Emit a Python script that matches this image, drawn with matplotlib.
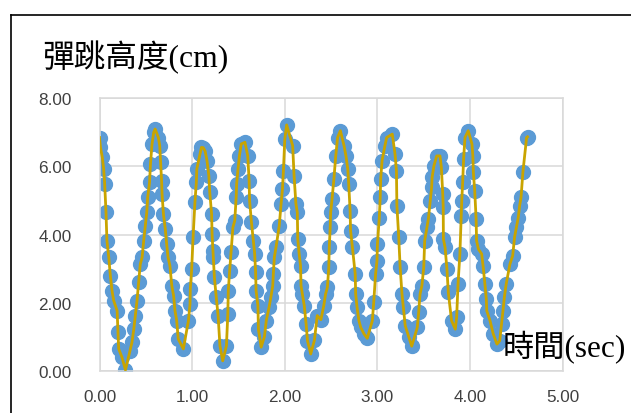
import matplotlib.pyplot as plt
from matplotlib.lines import Line2D

# bounce height vs time
t_sec = [0.00, 0.01, 0.03, 0.045, 0.056, 0.07, 0.08, 0.10, 0.117, 0.135, 0.153, 0.19, 0.20, 0.207, 0.243, 0.28,
         0.33, 0.35, 0.37, 0.387, 0.405, 0.423, 0.44, 0.46, 0.477, 0.495, 0.51, 0.52, 0.54, 0.55, 0.567, 0.585, 0.60,
         0.635, 0.65, 0.66, 0.67, 0.675, 0.69, 0.71, 0.725, 0.74, 0.76, 0.78, 0.80, 0.815, 0.833, 0.85, 0.905,
         0.96, 0.977, 0.98, 0.995, 1.01, 1.03, 1.045, 1.05, 1.085, 1.10, 1.12,
         1.14, 1.16, 1.18, 1.19, 1.21, 1.215, 1.225, 1.23, 1.24, 1.26, 1.28, 1.30, 1.33,
         1.37, 1.385, 1.39, 1.405, 1.42, 1.44, 1.46, 1.475, 1.48, 1.495, 1.51, 1.53, 1.57,
         1.60, 1.615, 1.62, 1.64, 1.66, 1.675, 1.685, 1.69, 1.71, 1.715, 1.745,
         1.78, 1.80, 1.83, 1.85, 1.87, 1.876, 1.887, 1.905, 1.94, 1.96, 1.975, 1.985, 2.0, 2.02,
         2.085, 2.10, 2.12, 2.135, 2.14, 2.155, 2.17, 2.175, 2.19, 2.21, 2.23, 2.245, 2.28,
         2.32, 2.35, 2.39, 2.42, 2.44, 2.46, 2.475, 2.48, 2.49, 2.495, 2.51, 2.53, 2.55, 2.57, 2.60,
         2.64, 2.66, 2.68, 2.69, 2.705, 2.71, 2.73, 2.76, 2.765, 2.78, 2.80, 2.82, 2.855, 2.89,
         2.945, 2.96, 2.98, 2.995, 3.0, 3.02, 3.03, 3.035, 3.05, 3.08, 3.10, 3.16,
         3.19, 3.205, 3.21, 3.23, 3.245, 3.265, 3.28, 3.30, 3.34, 3.37,
         3.43, 3.445, 3.46, 3.48, 3.50, 3.51, 3.535, 3.55, 3.57, 3.585, 3.59, 3.61, 3.64,
         3.675, 3.69, 3.705, 3.71, 3.712, 3.73, 3.75, 3.765, 3.80, 3.84,
         3.855, 3.87, 3.89, 3.905, 3.91, 3.92, 3.93, 3.945, 3.98,
         4.02, 4.03, 4.035, 4.05, 4.065, 4.07, 4.09, 4.125, 4.14, 4.16, 4.175, 4.18, 4.215, 4.25, 4.29,
         4.32, 4.34, 4.355, 4.37, 4.39, 4.43, 4.46, 4.48, 4.50, 4.52, 4.535, 4.55, 4.57, 4.61, 4.62]
height_cm = [6.85, 6.56, 6.27, 5.92, 5.48, 4.65, 3.82, 3.33, 2.79, 2.35, 2.06, 1.76, 1.13, 0.64, 0.39, 0.02,
             0.59, 0.83, 1.22, 1.62, 2.06, 2.60, 3.13, 3.33, 3.82, 4.26, 4.65, 5.09, 5.53, 6.07, 6.66, 7.00, 7.10,
             6.85, 6.61, 6.12, 5.58, 5.19, 4.60, 4.16, 3.72, 3.33, 3.08, 2.50, 2.20, 1.76, 1.47, 0.93, 0.64,
             1.47, 1.96, 2.40, 2.99, 3.92, 4.95, 5.53, 5.92, 6.36, 6.56, 6.55,
             6.45, 6.17, 5.73, 5.24, 4.60, 4.01, 3.52, 3.33, 2.74, 2.16, 1.62, 0.73, 0.29,
             0.73, 1.66, 2.35, 2.94, 3.48, 4.21, 4.41, 5.09, 5.48, 5.92, 6.31, 6.66, 6.71,
             6.31, 5.58, 4.99, 4.36, 3.82, 3.43, 2.90, 2.35, 1.91, 1.22, 0.69,
             1.00, 1.47, 1.86, 2.16, 2.50, 2.84, 3.33, 3.62, 4.26, 4.90, 5.34, 5.87, 6.80, 7.22,
             6.61, 5.73, 4.90, 4.65, 3.87, 3.43, 3.08, 2.50, 2.25, 1.91, 1.37, 0.88, 0.49,
             0.90, 1.62, 1.50, 1.90, 2.25, 2.45, 3.04, 3.62, 4.21, 4.65, 5.04, 5.63, 6.31, 6.85, 7.05,
             6.60, 6.31, 5.92, 5.48, 4.70, 4.11, 3.62, 2.84, 2.25, 1.86, 1.47, 1.27, 1.08, 0.95,
             1.47, 2.01, 2.84, 3.23, 3.72, 4.50, 5.09, 5.63, 6.17, 6.60, 6.85, 6.95,
             6.36, 5.87, 4.85, 3.92, 3.04, 2.25, 1.86, 1.32, 0.98, 0.72,
             1.27, 1.71, 2.25, 2.50, 3.04, 3.82, 4.21, 4.46, 4.99, 5.39, 5.68, 6.02, 6.31,
             6.31, 5.97, 5.19, 4.80, 3.87, 3.62, 2.99, 2.30, 1.47, 1.22,
             1.57, 2.55, 3.43, 4.55, 4.99, 5.53, 6.22, 6.85, 7.05,
             6.66, 6.31, 5.83, 5.29, 4.46, 3.82, 3.57, 3.43, 3.08, 2.55, 2.10, 1.76, 1.47, 1.08, 0.78,
             0.88, 1.37, 1.76, 2.16, 2.55, 3.13, 3.38, 3.92, 4.21, 4.50, 4.85, 5.09, 5.83, 6.85, 6.87]

x_ticks = [0, 1, 2, 3, 4, 5]
y_ticks = [0, 2, 4, 6, 8]

cjk_serif = ['Liberation Serif', 'Noto Sans CJK TC']

fig = plt.figure(figsize=(6.31, 4.14), dpi=100)
ax = fig.add_axes([0.1577, 0.1022, 0.7341, 0.6578])

# chart frame (only top/left visible in the crop)
fig.add_artist(Line2D([10.5 / 631, 10.5 / 631], [0, 1 - 15.5 / 414], color='black', lw=1.2))
fig.add_artist(Line2D([10.5 / 631, 1], [1 - 15.5 / 414, 1 - 15.5 / 414], color='black', lw=1.2))

ax.plot(t_sec, height_cm, ls='none', marker='o', ms=10, color='#5B9BD5', zorder=2)
ax.plot(t_sec, height_cm, color='#C9A400', lw=2.0, zorder=3)

ax.set_xlim(0, 5)
ax.set_ylim(0, 8)
ax.set_xticks(x_ticks)
ax.set_yticks(y_ticks)
ax.set_xticklabels(['%.2f' % v for v in x_ticks])
ax.set_yticklabels(['%.2f' % v for v in y_ticks])
ax.tick_params(length=0, labelsize=12.3, colors='#404040')
ax.tick_params(axis='x', pad=13)
ax.tick_params(axis='y', pad=20)
for lab in ax.get_xticklabels() + ax.get_yticklabels():
    lab.set_family('Liberation Sans')
ax.grid(True, color='#D9D9D9', lw=1.1)
ax.set_axisbelow(True)
for s in ax.spines.values():
    s.set_color('#D9D9D9')
    s.set_linewidth(1.1)

fig.text(42 / 631, 1 - 58 / 414, '彈跳高度(cm)', family=cjk_serif, fontsize=22.8,
         va='center', ha='left', color='black')
fig.text(503 / 631, 1 - 348 / 414, '時間(sec)', family=cjk_serif, fontsize=22.5,
         va='center', ha='left', color='black')

fig.savefig('out.png', dpi=100)
